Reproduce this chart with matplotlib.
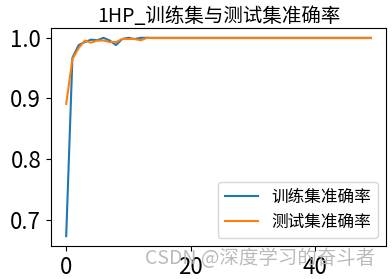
import matplotlib
matplotlib.use("Agg")
import matplotlib.pyplot as plt

plt.rcParams['font.family'] = ['Noto Sans CJK SC', 'DejaVu Sans']
plt.rcParams['axes.unicode_minus'] = False

# accuracy per epoch
train_acc = [0.673, 0.967, 0.988, 0.993, 0.997, 0.996, 1.0, 0.9955, 0.988, 0.998,
             1.0, 0.998, 1.0] + [1.0] * 37
test_acc = [0.891, 0.965, 0.983, 0.9955, 0.992, 0.9955, 0.9955, 0.993, 0.993, 0.998,
            0.998, 0.998, 0.996, 1.0] + [0.9995] * 36
epochs = list(range(len(train_acc)))

fig = plt.figure(figsize=(3.92, 2.79), dpi=100)
ax = fig.add_axes([0.130, 0.118, 0.855, 0.782])

ax.plot(epochs, train_acc, label='训练集准确率')
ax.plot(epochs, test_acc, label='测试集准确率')

ax.set_title('1HP_训练集与测试集准确率', fontsize=14, pad=4)
ax.set_yticks([0.7, 0.8, 0.9, 1.0])
ax.set_xticks([0, 20, 40])
ax.tick_params(labelsize=16)
ax.legend(loc='lower right', fontsize=12)

# watermark
fig.text(0.37, 0.072, 'CSDN @深度学习的奋斗者', fontsize=14, color='#b4b4b4',
         alpha=0.9, va='center', ha='left')

fig.savefig('out.png', dpi=100)
